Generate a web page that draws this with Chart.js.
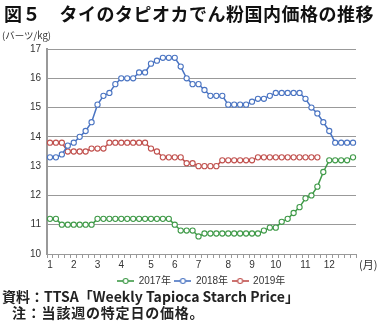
<!DOCTYPE html>
<html><head><meta charset="utf-8">
<script src="https://cdn.jsdelivr.net/npm/chart.js@4"></script>
<style>
html,body{margin:0;padding:0;background:#fff;width:378px;height:324px;overflow:hidden;}
#wrap{position:relative;width:378px;height:324px;}
canvas{position:absolute;left:0;top:0;}
.t{position:absolute;white-space:nowrap;font-family:"Noto Sans CJK JP",sans-serif;color:#222;}
#title{left:4px;top:0px;font-size:18px;font-weight:bold;color:#111;letter-spacing:0.5px;}
#unit{left:2px;top:28px;font-size:9.5px;color:#333;}
#mon{left:359px;top:256px;font-size:11px;color:#333;}
#src{left:2px;top:286px;font-size:14px;font-weight:bold;color:#222;}
#note{left:12px;top:302px;font-size:14px;font-weight:bold;color:#222;letter-spacing:0.8px;}
</style></head>
<body><div id="wrap">
<canvas id="c" width="378" height="324"></canvas>
<div class="t" id="title">図５　タイのタピオカでん粉国内価格の推移</div>
<div class="t" id="unit">(バーツ/kg)</div>
<div class="t" id="mon">(月)</div>
<div class="t" id="src">資料：TTSA「Weekly Tapioca Starch Price」</div>
<div class="t" id="note">注：当該週の特定日の価格。</div>
</div>
<script>
const weekTickLabels = ['1','','','','2','','','','3','','','','4','','','','','5','','','','6','','','','7','','','','','8','','','','9','','','','10','','','','','11','','','','12','','','',''];
const seriesNames = ['2017年','2018年','2019年'];
const s2017 = [11.2,11.2,11.0,11.0,11.0,11.0,11.0,11.0,11.2,11.2,11.2,11.2,11.2,11.2,11.2,11.2,11.2,11.2,11.2,11.2,11.2,11.0,10.8,10.8,10.8,10.6,10.7,10.7,10.7,10.7,10.7,10.7,10.7,10.7,10.7,10.7,10.8,10.9,10.9,11.1,11.2,11.4,11.6,11.9,12.0,12.3,12.8,13.2,13.2,13.2,13.2,13.3];
const s2018 = [13.3,13.3,13.4,13.7,13.8,14.0,14.2,14.5,15.1,15.4,15.5,15.8,16.0,16.0,16.0,16.2,16.2,16.5,16.6,16.7,16.7,16.7,16.4,16.0,15.8,15.8,15.6,15.4,15.4,15.4,15.1,15.1,15.1,15.1,15.2,15.3,15.3,15.4,15.5,15.5,15.5,15.5,15.5,15.3,15.0,14.8,14.5,14.2,13.8,13.8,13.8,13.8];
const s2019 = [13.8,13.8,13.8,13.5,13.5,13.5,13.5,13.6,13.6,13.6,13.8,13.8,13.8,13.8,13.8,13.8,13.8,13.6,13.5,13.3,13.3,13.3,13.3,13.1,13.1,13.0,13.0,13.0,13.0,13.2,13.2,13.2,13.2,13.2,13.2,13.3,13.3,13.3,13.3,13.3,13.3,13.3,13.3,13.3,13.3,13.3,null,null,null,null,null,null];
const yTicks = [10,11,12,13,14,15,16,17];
const colors = ['#3f9a48','#4a74c2','#c0504d'];
const fontLat = '"Liberation Sans","Noto Sans CJK JP",sans-serif';

function legendIcon(color){
  const cv=document.createElement('canvas'); cv.width=17; cv.height=8;
  const g=cv.getContext('2d');
  g.strokeStyle=color; g.lineWidth=1.6;
  g.beginPath(); g.moveTo(0,4); g.lineTo(17,4); g.stroke();
  g.fillStyle='#fff'; g.lineWidth=1.1;
  g.beginPath(); g.arc(8.5,4,2.5,0,Math.PI*2); g.fill(); g.stroke();
  return cv;
}
const icons = colors.map(legendIcon);

function ds(label,data,color){
  return {label,data,borderColor:color,backgroundColor:'#fff',borderWidth:1.5,
    pointRadius:2.6,pointBorderWidth:1.1,pointBackgroundColor:'#fff',pointBorderColor:color,
    tension:0,spanGaps:false};
}
new Chart(document.getElementById('c'),{
  type:'line',
  data:{labels:weekTickLabels,datasets:[ds(seriesNames[0],s2017,colors[0]),ds(seriesNames[1],s2018,colors[1]),ds(seriesNames[2],s2019,colors[2])]},
  options:{
    responsive:false,animation:false,
    layout:{padding:{left:0,right:22,top:49,bottom:28}},
    plugins:{
      tooltip:{enabled:false},
      legend:{position:'bottom',fullSize:false,
        labels:{usePointStyle:true,pointStyleWidth:16,boxHeight:8,padding:4,color:'#333',
          font:{family:fontLat,size:10},
          generateLabels:(chart)=>chart.data.datasets.map((d,i)=>({text:d.label,pointStyle:icons[i],fillStyle:'#fff',strokeStyle:colors[i],lineWidth:0,datasetIndex:i,fontColor:'#333'}))
        }
      }
    },
    scales:{
      x:{type:'category',offset:true,
        grid:{drawOnChartArea:false,drawTicks:true,tickLength:4,color:'#999',offset:true},
        border:{color:'#999',width:1},
        ticks:{autoSkip:false,maxRotation:0,padding:1,color:'#333',font:{family:fontLat,size:10}}
      },
      y:{min:10,max:17,
        afterFit:(s)=>{s.width=47;},
        afterBuildTicks:(s)=>{s.ticks=yTicks.map(v=>({value:v}));},
        grid:{color:'#999',lineWidth:1,drawTicks:false},
        border:{color:'#999',width:2},
        ticks:{padding:6,color:'#333',font:{family:fontLat,size:10}}
      }
    }
  }
});
</script>
</body></html>
